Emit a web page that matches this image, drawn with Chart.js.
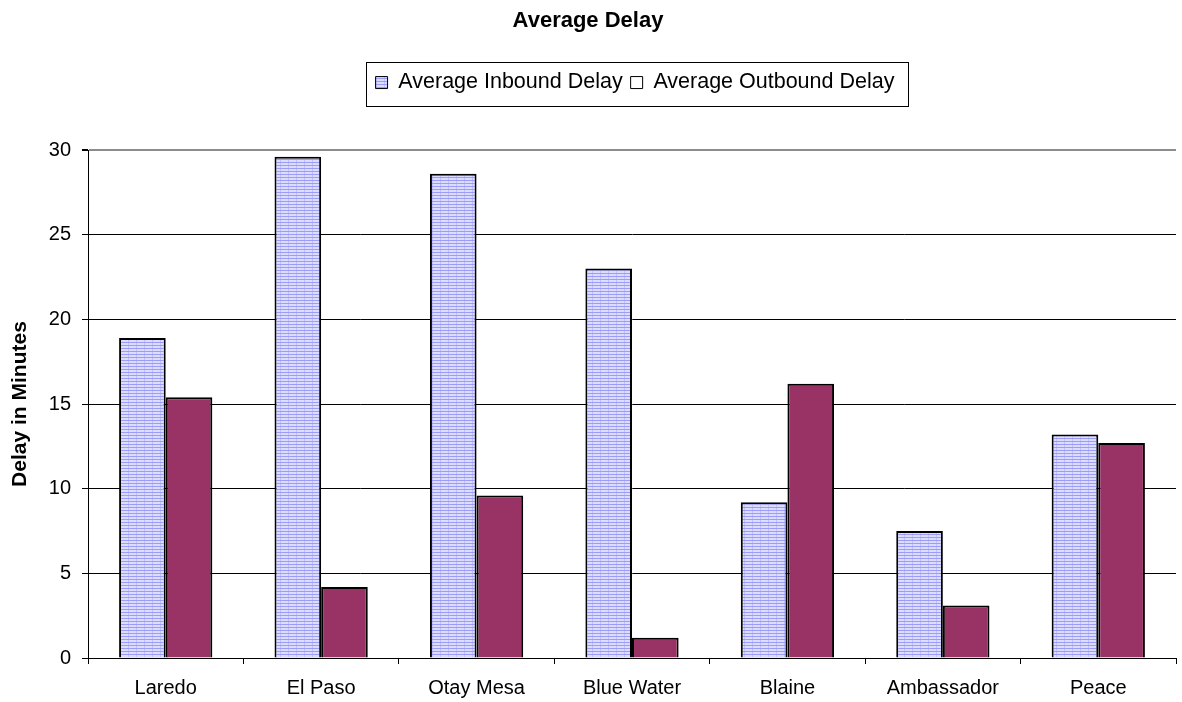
<!DOCTYPE html>
<html>
<head>
<meta charset="utf-8">
<title>Average Delay</title>
<script src="https://cdn.jsdelivr.net/npm/chart.js@4.4.1/dist/chart.umd.min.js"></script>
<style>
  html, body { margin: 0; padding: 0; background: #fff; }
</style>
</head>
<body>
<canvas id="chart" width="1182" height="702"></canvas>
<script>
const categories = ['Laredo', 'El Paso', 'Otay Mesa', 'Blue Water', 'Blaine', 'Ambassador', 'Peace'];
const inboundDelay = [18.9, 29.6, 28.6, 23.0, 9.2, 7.5, 13.2];
const outboundDelay = [15.4, 4.2, 9.6, 1.2, 16.2, 3.1, 12.7];
const seriesNames = ['Average Inbound Delay', 'Average Outbound Delay'];
const yTicks = [0, 5, 10, 15, 20, 25, 30];

(function () {
    const canvas = document.getElementById('chart');
    const ctx = canvas.getContext('2d');
    const fontFamily = '"Liberation Sans", Arial, sans-serif';

    // little tile for the striped fill of the inbound bars
    function makeHatch() {
        const tile = document.createElement('canvas');
        tile.width = 8;
        tile.height = 3;
        const t = tile.getContext('2d');
        t.fillStyle = '#dcdcff';
        t.fillRect(0, 0, 8, 3);
        t.fillStyle = '#9c9cfa';
        t.fillRect(0, 0, 8, 1);
        t.fillStyle = '#c0c0fa';
        t.fillRect(0, 1, 1, 2);
        return ctx.createPattern(tile, 'repeat');
    }
    const hatch = makeHatch();

    const legendGap = 46.75;
    const legendShift = 47;

    const legendFrame = {
        id: 'legendFrame',
        beforeLayout: function (chart) {
            const legend = chart.legend;
            if (legend && !legend._gapAdded) {
                const fit = legend.fit;
                legend.fit = function () {
                    fit.call(this);
                    this.height += legendGap;
                };
                legend._gapAdded = true;
            }
        },
        afterLayout: function (chart) {
            chart.legend.left += legendShift;
            chart.legend.right += legendShift;
        },
        afterDraw: function (chart) {
            const boxes = chart.legend.legendHitBoxes;
            if (!boxes || !boxes.length) {
                return;
            }
            const first = boxes[0];
            const last = boxes[boxes.length - 1];
            const left = Math.round(first.left - 10) + 0.5;
            const right = Math.round(last.left + last.width + 14) + 0.5;
            const top = Math.round(first.top - 10) + 0.5;
            const bottom = Math.round(first.top + first.height + 13) + 0.5;
            const c = chart.ctx;
            c.save();
            c.strokeStyle = '#000';
            c.lineWidth = 1;
            c.strokeRect(left, top, right - left, bottom - top);
            c.restore();
        }
    };

    new Chart(ctx, {
        type: 'bar',
        data: {
            labels: categories,
            datasets: [
                {
                    label: seriesNames[0],
                    data: inboundDelay,
                    backgroundColor: hatch,
                    borderColor: '#000',
                    borderWidth: 2,
                    categoryPercentage: 0.6,
                    barPercentage: 1.0
                },
                {
                    label: seriesNames[1],
                    data: outboundDelay,
                    backgroundColor: '#993366',
                    borderColor: '#000',
                    borderWidth: 2,
                    categoryPercentage: 0.6,
                    barPercentage: 1.0
                }
            ]
        },
        options: {
            responsive: false,
            animation: false,
            layout: { padding: { left: 0, right: 6, top: 0, bottom: 0 } },
            plugins: {
                title: {
                    display: true,
                    text: 'Average Delay',
                    color: '#000',
                    font: { family: fontFamily, size: 22, weight: 'bold' },
                    padding: { top: 8, bottom: 29.4 }
                },
                legend: {
                    display: true,
                    position: 'top',
                    labels: {
                        color: '#000',
                        font: { family: fontFamily, size: 21.5 },
                        boxWidth: 12,
                        boxHeight: 12,
                        padding: 8,
                        generateLabels: function (chart) {
                            const items = Chart.defaults.plugins.legend.labels.generateLabels(chart);
                            items.forEach(function (item, i) {
                                item.fillStyle = i === 0 ? hatch : '#ffffff';
                                item.strokeStyle = '#000';
                                item.lineWidth = 1;
                            });
                            return items;
                        }
                    }
                },
                tooltip: { enabled: false }
            },
            scales: {
                x: {
                    offset: true,
                    afterFit: function (scale) { scale.height = 44; },
                    grid: {
                        offset: true,
                        drawOnChartArea: false,
                        drawTicks: true,
                        tickLength: 6,
                        color: '#000'
                    },
                    border: { display: true, color: '#000', width: 1 },
                    ticks: {
                        color: '#000',
                        padding: 12,
                        maxRotation: 0,
                        font: { family: fontFamily, size: 20 }
                    }
                },
                y: {
                    min: 0,
                    max: 30,
                    afterFit: function (scale) { scale.width = 88; },
                    afterBuildTicks: function (scale) {
                        scale.ticks = yTicks.map(function (v) { return { value: v }; });
                    },
                    grid: {
                        color: function (c) { return c.tick && c.tick.value === 30 ? '#8c8c8c' : '#000'; },
                        lineWidth: function (c) { return c.tick && c.tick.value === 30 ? 2 : 1; },
                        tickColor: '#000',
                        tickLength: 6
                    },
                    border: { display: true, color: '#000', width: 1 },
                    ticks: {
                        color: '#000',
                        padding: 11,
                        font: { family: fontFamily, size: 20 }
                    },
                    title: {
                        display: true,
                        text: 'Delay in Minutes',
                        color: '#000',
                        font: { family: fontFamily, size: 21, weight: 'bold' },
                        padding: { top: 8, bottom: 0 }
                    }
                }
            }
        },
        plugins: [legendFrame]
    });
})();
</script>
</body>
</html>
